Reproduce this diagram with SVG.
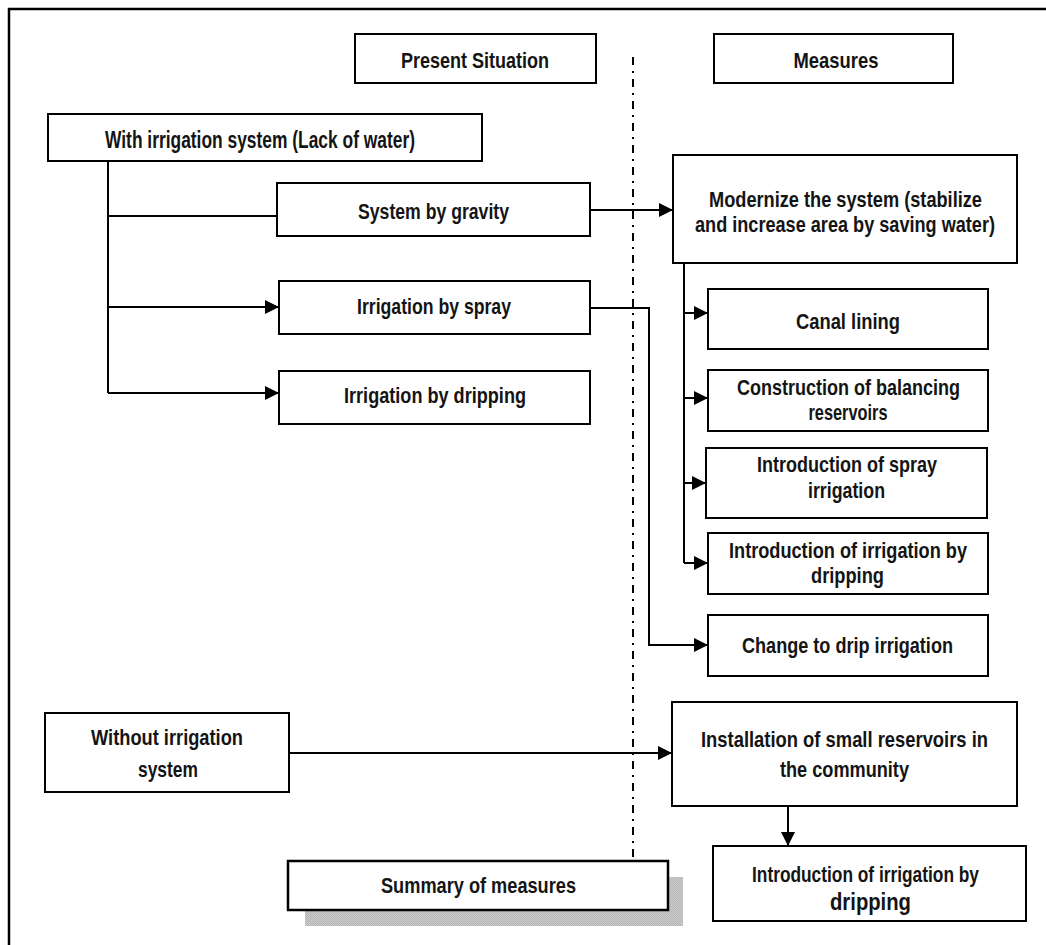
<svg xmlns="http://www.w3.org/2000/svg" width="1046" height="945" viewBox="0 0 1046 945">
  <style>
    .box { fill: #ffffff; stroke: #000000; stroke-width: 2; }
    .lbl { font-family: "Liberation Sans", Arial, sans-serif; font-weight: bold; font-size: 22px; fill: #141414; text-anchor: middle; }
    .wire { fill: none; stroke: #000000; stroke-width: 2; }
    .arr { fill: none; stroke: #000000; stroke-width: 2; marker-end: url(#head); }
  </style>
  <defs>
    <marker id="head" markerWidth="14" markerHeight="14" refX="14" refY="7" orient="auto" markerUnits="userSpaceOnUse">
      <path d="M0,0 L14,7 L0,14 z" fill="#000000"/>
    </marker>
    <pattern id="shade" width="2" height="2" patternUnits="userSpaceOnUse">
      <rect width="2" height="2" fill="#cdcdcd"/>
      <rect width="1" height="1" fill="#b4b4b4"/>
      <rect x="1" y="1" width="1" height="1" fill="#b4b4b4"/>
    </pattern>
  </defs>

  <rect width="1046" height="945" fill="#ffffff"/>

  <!-- outer frame (open on the right and bottom) -->
  <path d="M9,945 L9,9 L1046,9" fill="none" stroke="#000000" stroke-width="2.5"/>

  <!-- divider between the two columns -->
  <line x1="633" y1="57" x2="633" y2="861" stroke="#000000" stroke-width="2" stroke-dasharray="8 6 2 6"/>

  <g id="connectors">
    <path class="wire" d="M108,161 L108,393"/>
    <path class="wire" d="M108,216 L277,216"/>
    <path class="arr" d="M108,307 L279,307"/>
    <path class="arr" d="M108,393 L279,393"/>
    <path class="arr" d="M590,210 L673,210"/>
    <path class="arr" d="M590,308 L649,308 L649,645 L708,645"/>
    <path class="wire" d="M684,263 L684,563"/>
    <path class="arr" d="M684,313 L708,313"/>
    <path class="arr" d="M684,398 L708,398"/>
    <path class="arr" d="M684,483 L706,483"/>
    <path class="arr" d="M684,563 L708,563"/>
    <path class="arr" d="M289,753 L672,753"/>
    <path class="arr" d="M788,806 L788,846"/>
  </g>

  <g id="present-situation">
    <rect class="box" x="355" y="34" width="241" height="49"/>
    <text class="lbl" x="475" y="68" textLength="148" lengthAdjust="spacingAndGlyphs">Present Situation</text>
  </g>

  <g id="measures">
    <rect class="box" x="714" y="34" width="239" height="49"/>
    <text class="lbl" x="836" y="68" textLength="85" lengthAdjust="spacingAndGlyphs">Measures</text>
  </g>

  <g id="with-irrigation">
    <rect class="box" x="48" y="114" width="434" height="47"/>
    <text class="lbl" x="260" y="148" style="font-size:23px" textLength="310" lengthAdjust="spacingAndGlyphs">With irrigation system (Lack of water)</text>
  </g>

  <g id="gravity">
    <rect class="box" x="277" y="183" width="313" height="53"/>
    <text class="lbl" x="433.5" y="219" textLength="151" lengthAdjust="spacingAndGlyphs">System by gravity</text>
  </g>

  <g id="spray">
    <rect class="box" x="279" y="281" width="311" height="53"/>
    <text class="lbl" x="434" y="314" textLength="154" lengthAdjust="spacingAndGlyphs">Irrigation by spray</text>
  </g>

  <g id="dripping">
    <rect class="box" x="279" y="371" width="311" height="53"/>
    <text class="lbl" x="435" y="403" textLength="182" lengthAdjust="spacingAndGlyphs">Irrigation by dripping</text>
  </g>

  <g id="modernize">
    <rect class="box" x="673" y="155" width="344" height="108"/>
    <text class="lbl" x="845.5" y="207" textLength="273" lengthAdjust="spacingAndGlyphs">Modernize the system (stabilize</text>
    <text class="lbl" x="845" y="232" textLength="300" lengthAdjust="spacingAndGlyphs">and increase area by saving water)</text>
  </g>

  <g id="canal-lining">
    <rect class="box" x="708" y="289" width="280" height="60"/>
    <text class="lbl" x="848" y="329" textLength="104" lengthAdjust="spacingAndGlyphs">Canal lining</text>
  </g>

  <g id="balancing-reservoirs">
    <rect class="box" x="708" y="370" width="280" height="61"/>
    <text class="lbl" x="848.5" y="395" textLength="223" lengthAdjust="spacingAndGlyphs">Construction of balancing</text>
    <text class="lbl" x="848" y="420" textLength="79" lengthAdjust="spacingAndGlyphs">reservoirs</text>
  </g>

  <g id="spray-irrigation">
    <rect class="box" x="706" y="448" width="281" height="70"/>
    <text class="lbl" x="847" y="472" textLength="180" lengthAdjust="spacingAndGlyphs">Introduction of spray</text>
    <text class="lbl" x="846.5" y="498" textLength="77" lengthAdjust="spacingAndGlyphs">irrigation</text>
  </g>

  <g id="drip-introduction">
    <rect class="box" x="708" y="533" width="280" height="61"/>
    <text class="lbl" x="848" y="558" textLength="238" lengthAdjust="spacingAndGlyphs">Introduction of irrigation by</text>
    <text class="lbl" x="847.5" y="583" textLength="73" lengthAdjust="spacingAndGlyphs">dripping</text>
  </g>

  <g id="change-drip">
    <rect class="box" x="708" y="615" width="280" height="61"/>
    <text class="lbl" x="847.5" y="653" textLength="211" lengthAdjust="spacingAndGlyphs">Change to drip irrigation</text>
  </g>

  <g id="without-irrigation">
    <rect class="box" x="45" y="713" width="244" height="79"/>
    <text class="lbl" x="167" y="745" textLength="152" lengthAdjust="spacingAndGlyphs">Without irrigation</text>
    <text class="lbl" x="168" y="777" textLength="60" lengthAdjust="spacingAndGlyphs">system</text>
  </g>

  <g id="small-reservoirs">
    <rect class="box" x="672" y="702" width="345" height="104"/>
    <text class="lbl" x="844.5" y="747" textLength="287" lengthAdjust="spacingAndGlyphs">Installation of small reservoirs in</text>
    <text class="lbl" x="844.5" y="777" textLength="129" lengthAdjust="spacingAndGlyphs">the community</text>
  </g>

  <g id="drip-community">
    <rect class="box" x="713" y="846" width="313" height="75"/>
    <text class="lbl" x="865.5" y="882" textLength="227" lengthAdjust="spacingAndGlyphs">Introduction of irrigation by</text>
    <text class="lbl" x="870.5" y="910" style="font-size:24px" textLength="81" lengthAdjust="spacingAndGlyphs">dripping</text>
  </g>

  <g id="summary">
    <rect x="305" y="877" width="378" height="49" fill="url(#shade)"/>
    <rect class="box" x="288" y="861" width="380" height="49" style="stroke-width:2.5"/>
    <text class="lbl" x="478.5" y="893" textLength="195" lengthAdjust="spacingAndGlyphs">Summary of measures</text>
  </g>
</svg>
